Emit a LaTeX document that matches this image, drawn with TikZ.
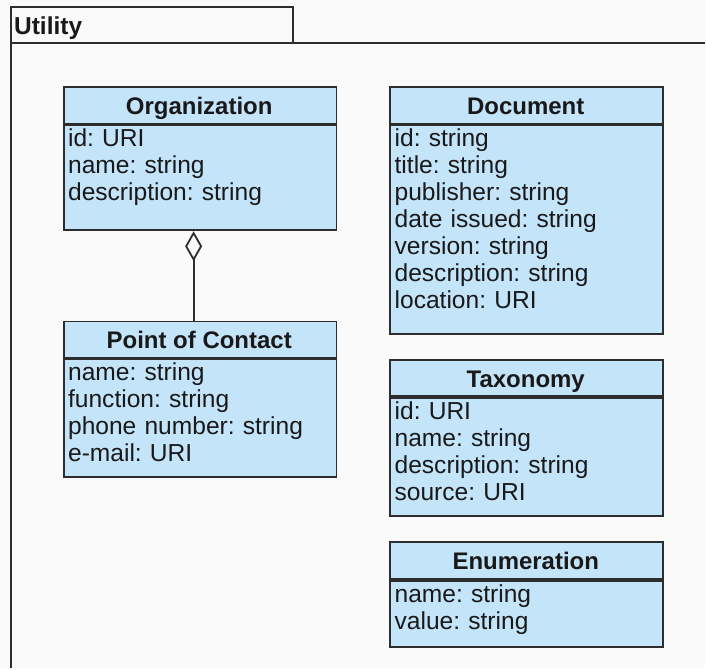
\documentclass[tikz,border=0pt]{standalone}
\usepackage{fontspec}
\setmainfont{Liberation Sans}
\usetikzlibrary{arrows.meta}
\frenchspacing

\definecolor{classfill}{RGB}{196,228,249}
\definecolor{pagebg}{RGB}{250,250,250}
\definecolor{linegray}{RGB}{45,45,45}

\tikzset{
    classbox/.style={draw=linegray, line width=1.8pt, fill=classfill, minimum width=273pt, inner sep=0pt, anchor=north west},
    classtitle/.style={font=\fontsize{24}{27}\selectfont\bfseries, anchor=base, inner sep=0pt, text=black!90},
    attrs/.style={font=\fontsize{24.6}{27}\selectfont, text width=263pt, align=left, anchor=base west, inner sep=0pt, text=black!90},
    aggr/.style={draw=linegray, line width=2pt, {Diamond[open, length=30pt, width=17pt, line width=1.8pt]}-},
}

\begin{document}
\begin{tikzpicture}[x=1pt,y=1pt,yscale=-1]
    \path[fill=pagebg] (0,0) rectangle (706,669);

    %Shape: package frame
    \draw[linegray, line width=2pt] (11,7) rectangle (293,43);
    \draw[linegray, line width=2pt] (706,43) -- (11,43) -- (11,669);
    % Text Node
    \node[anchor=base west, inner sep=0pt, font=\fontsize{24.5}{27}\selectfont\bfseries, text=black!90] (utility) at (14,35) {Utility};

    %Shape: Organization
    \node[classbox, minimum height=37pt] (orghead) at (63,86) {};
    \node[classbox, minimum height=105pt] (orgbox) at (orghead.south west) {};
    \node[classtitle] (orgname) at (199.5,115) {Organization};
    \node[attrs] (orgattr) at (68,147) {id: URI\\name: string\\description: string};

    %Shape: Point of Contact
    \node[classbox, minimum height=36pt] (pochead) at (63,321) {};
    \node[classbox, minimum height=118pt] (pocbox) at (pochead.south west) {};
    \node[classtitle] (pocname) at (199.5,349) {Point of Contact};
    \node[attrs] (pocattr) at (68,381.5) {name: string\\function: string\\phone number: string\\e-mail: URI};

    %Shape: Document
    \node[classbox, minimum height=37pt] (dochead) at (390,86) {};
    \node[classbox, minimum height=209pt] (docbox) at (dochead.south west) {};
    \node[classtitle] (docname) at (526.5,115) {Document};
    \node[attrs] (docattr) at (395,147) {id: string\\title: string\\publisher: string\\date issued: string\\version: string\\description: string\\location: URI};

    %Shape: Taxonomy
    \node[classbox, minimum height=36pt] (taxhead) at (390,360) {};
    \node[classbox, minimum height=118pt] (taxbox) at (taxhead.south west) {};
    \node[classtitle] (taxname) at (526.5,388) {Taxonomy};
    \node[attrs] (taxattr) at (395,420.5) {id: URI\\name: string\\description: string\\source: URI};

    %Shape: Enumeration
    \node[classbox, minimum height=37pt] (enumhead) at (390,542) {};
    \node[classbox, minimum height=66pt] (enumbox) at (enumhead.south west) {};
    \node[classtitle] (enumname) at (526.5,570.5) {Enumeration};
    \node[attrs] (enumattr) at (395,603) {name: string\\value: string};

    %Straight Lines: aggregation
    \draw[aggr] ([xshift=-6.5pt]orgbox.south) -- ([xshift=-6.5pt]pochead.north);

\end{tikzpicture}
\end{document}
